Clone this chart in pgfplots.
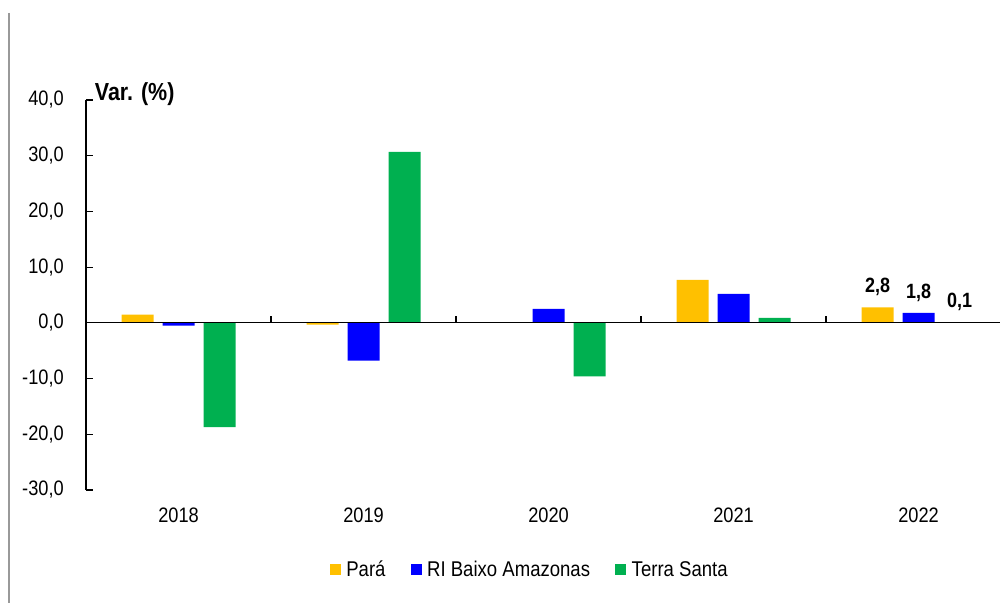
\documentclass[border=0pt]{standalone}
\usepackage{pgfplots}
\pgfplotsset{compat=1.18}
\usepackage{fontspec}
\setmainfont{Liberation Sans}[FakeStretch=0.87]
\definecolor{cpara}{HTML}{FFC000}
\definecolor{cri}{HTML}{0000FF}
\definecolor{cts}{HTML}{00B050}
\begin{document}
\begin{tikzpicture}
\useasboundingbox (0,0) rectangle (752.25pt,452.25pt);
\draw[gray!80, line width=0.8pt] (6.75pt,442.5pt) -- (6.75pt,0pt);
\begin{axis}[
  at={(64.5pt,84.75pt)}, anchor=south west,
  scale only axis, width=685.5pt, height=292.5pt,
  ybar=6.75pt, bar width=24pt,
  xmin=-0.5, xmax=4.44, ymin=-30, ymax=40,
  axis y line*=left, axis x line*=bottom,
  x axis line style={draw=none},
  y axis line style={black, line width=0.9pt},
  xtick={0,1,2,3,4},
  xticklabels={2018,2019,2020,2021,2022},
  xtick style={draw=none},
  xticklabel style={inner sep=0pt, anchor=north, yshift=-13pt, font=\fontsize{15.7}{18}\selectfont},
  ytick={-30,-20,...,40},
  ytick style={black, line width=0.9pt},
  tick align=inside, major tick length=5.25pt,
  yticklabel style={inner sep=0pt, anchor=east, xshift=-16.5pt, font=\fontsize{15.7}{18}\selectfont},
  /pgf/number format/.cd, use comma, fixed, fixed zerofill, precision=1, assume math mode=true,
  /pgfplots/.cd,
  legend columns=3,
  legend style={at={(0.486,-0.205)}, anchor=center, draw=none, fill=none,
    font=\fontsize{16}{18}\selectfont,
    /tikz/every odd column/.append style={column sep=2pt},
    /tikz/every even column/.append style={column sep=17pt}},
  legend image code/.code={\fill[#1] (0pt,-4.1pt) rectangle (8.2pt,4.1pt);},
  nodes near coords, point meta=explicit symbolic,
  every node near coord/.append style={font=\bfseries\fontsize{15.5}{18}\selectfont, yshift=5pt},
  clip=false,
]
\addplot[fill=cpara, draw=none] coordinates {(0,1.5)[] (1,-0.3)[] (2,0.0)[] (3,7.7)[] (4,2.8)[2,8]};
\addplot[fill=cri, draw=none] coordinates {(0,-0.5)[] (1,-6.8)[] (2,2.5)[] (3,5.2)[] (4,1.8)[1,8]};
\addplot[fill=cts, draw=none] coordinates {(0,-18.7)[] (1,30.7)[] (2,-9.6)[] (3,0.9)[] (4,0.1)[0,1]};
\legend{Pará, RI Baixo Amazonas, Terra Santa}
\draw[black, line width=0.9pt] (axis cs:-0.5,0) -- (axis cs:4.44,0);
\draw[black, line width=0.9pt] (axis cs:0.5,0) -- (axis cs:0.5,1.25);
\draw[black, line width=0.9pt] (axis cs:1.5,0) -- (axis cs:1.5,1.25);
\draw[black, line width=0.9pt] (axis cs:2.5,0) -- (axis cs:2.5,1.25);
\draw[black, line width=0.9pt] (axis cs:3.5,0) -- (axis cs:3.5,1.25);
\node[anchor=base west, font=\bfseries\fontsize{18.5}{20}\selectfont, inner sep=0pt] at ([xshift=6.5pt]rel axis cs:0,1) {Var. (\%)};
\end{axis}
\end{tikzpicture}
\end{document}
